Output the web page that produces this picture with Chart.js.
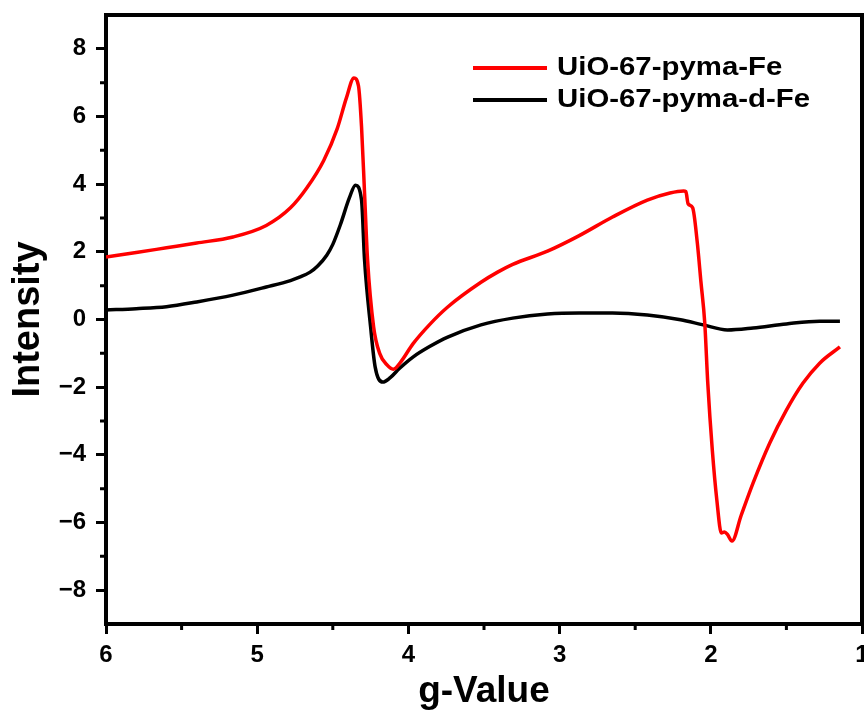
<!DOCTYPE html>
<html>
<head>
<meta charset="utf-8">
<script src="https://cdn.jsdelivr.net/npm/chart.js@4/dist/chart.umd.min.js"></script>
<style>
  html, body { margin: 0; padding: 0; background: #ffffff; }
  #wrap { width: 864px; height: 715px; position: relative; }
</style>
</head>
<body>
<div id="wrap"><canvas id="c" width="864" height="715"></canvas></div>
<script>
// ---- data ----
const seriesNames = ["UiO-67-pyma-Fe", "UiO-67-pyma-d-Fe"];

const gRed = [6.00, 5.80, 5.60, 5.40, 5.16, 4.94, 4.78, 4.67, 4.56, 4.47, 4.41, 4.36, 4.33, 4.31, 4.29, 4.27, 4.23, 4.19, 4.14, 4.10, 4.05, 3.97, 3.86, 3.74, 3.52, 3.41, 3.31, 3.08, 2.87, 2.65, 2.42, 2.27, 2.18, 2.165, 2.15, 2.12, 2.09, 2.065, 2.04, 2.02, 1.99, 1.96, 1.93, 1.91, 1.89, 1.86, 1.80, 1.72, 1.61, 1.50, 1.39, 1.28, 1.146];
const intRed = [1.85, 1.98, 2.12, 2.26, 2.44, 2.78, 3.30, 3.90, 4.70, 5.65, 6.55, 7.14, 6.90, 5.70, 3.74, 1.76, -0.22, -1.00, -1.35, -1.47, -1.25, -0.72, -0.15, 0.37, 1.10, 1.40, 1.63, 2.02, 2.48, 3.03, 3.53, 3.74, 3.80, 3.78, 3.42, 3.30, 2.30, 1.10, -0.10, -1.88, -3.86, -5.34, -6.31, -6.28, -6.35, -6.55, -5.80, -4.83, -3.65, -2.68, -1.88, -1.29, -0.81];

const gBlack = [6.00, 5.80, 5.60, 5.40, 5.16, 4.94, 4.78, 4.72, 4.65, 4.60, 4.54, 4.50, 4.45, 4.39, 4.35, 4.31, 4.29, 4.25, 4.22, 4.17, 4.12, 4.06, 3.97, 3.86, 3.74, 3.52, 3.31, 3.08, 2.87, 2.65, 2.42, 2.20, 2.05, 1.89, 1.72, 1.50, 1.28, 1.146];
const intBlack = [0.28, 0.32, 0.38, 0.52, 0.72, 0.96, 1.15, 1.25, 1.40, 1.58, 1.90, 2.22, 2.80, 3.60, 3.97, 3.53, 1.76, -0.22, -1.40, -1.85, -1.72, -1.45, -1.11, -0.80, -0.52, -0.16, 0.04, 0.16, 0.19, 0.19, 0.13, -0.01, -0.16, -0.31, -0.25, -0.13, -0.05, -0.05];

const xTicks = [6, 5, 4, 3, 2, 1];
const xMinorTicks = [5.5, 4.5, 3.5, 2.5, 1.5];
const yTicks = [-8, -6, -4, -2, 0, 2, 4, 6, 8];
const yMinorTicks = [-7, -5, -3, -1, 1, 3, 5, 7];

const FONT = "'Liberation Sans', Arial, Helvetica, sans-serif";

function pts(xs, ys) { return xs.map((x, i) => ({ x: x, y: ys[i] })); }

const frameAndMinor = {
  id: 'frameAndMinor',
  afterDraw(chart) {
    const ctx = chart.ctx;
    const a = chart.chartArea;
    const xs = chart.scales.x, ys = chart.scales.y;
    ctx.save();
    ctx.strokeStyle = '#000';
    // top and right frame
    ctx.lineWidth = 4;
    ctx.beginPath();
    ctx.moveTo(a.left - 2, a.top);
    ctx.lineTo(a.right, a.top);
    ctx.lineTo(a.right, a.bottom + 2);
    ctx.stroke();
    // minor ticks
    ctx.lineWidth = 3;
    ctx.beginPath();
    xMinorTicks.forEach(v => {
      const px = xs.getPixelForValue(v);
      ctx.moveTo(px, a.bottom);
      ctx.lineTo(px, a.bottom + 6);
    });
    yMinorTicks.forEach(v => {
      const py = ys.getPixelForValue(v);
      ctx.moveTo(a.left, py);
      ctx.lineTo(a.left - 6, py);
    });
    ctx.stroke();
    // legend
    const items = [
      { label: seriesNames[0], color: '#ff0000', y: 68 },
      { label: seriesNames[1], color: '#000000', y: 100 }
    ];
    items.forEach(it => {
      ctx.strokeStyle = it.color;
      ctx.lineWidth = 4;
      ctx.beginPath();
      ctx.moveTo(473, it.y);
      ctx.lineTo(547, it.y);
      ctx.stroke();
      ctx.save();
      ctx.translate(557, it.y);
      ctx.scale(1.13, 1);
      ctx.font = 'bold 26px ' + FONT;
      ctx.textBaseline = 'middle';
      ctx.textAlign = 'left';
      ctx.fillStyle = '#000';
      ctx.fillText(it.label, 0, 0);
      ctx.restore();
    });
    ctx.restore();
  }
};

new Chart(document.getElementById('c'), {
  type: 'line',
  data: {
    datasets: [
      {
        label: seriesNames[0],
        data: pts(gRed, intRed),
        borderColor: '#ff0000',
        borderWidth: 3.5,
        pointRadius: 0,
        cubicInterpolationMode: 'monotone',
        fill: false
      },
      {
        label: seriesNames[1],
        data: pts(gBlack, intBlack),
        borderColor: '#000000',
        borderWidth: 3.5,
        pointRadius: 0,
        cubicInterpolationMode: 'monotone',
        fill: false
      }
    ]
  },
  options: {
    responsive: false,
    animation: false,
    devicePixelRatio: 1,
    layout: { padding: { top: 15, right: 2, left: 0, bottom: 0 } },
    plugins: {
      legend: { display: false },
      tooltip: { enabled: false }
    },
    scales: {
      x: {
        type: 'linear',
        min: 1,
        max: 6,
        reverse: true,
        afterBuildTicks: s => { s.ticks = xTicks.map(v => ({ value: v })); },
        afterFit: s => { s.height = 91; s.paddingLeft = 0; s.paddingRight = 0; },
        border: { display: true, color: '#000', width: 4 },
        grid: { display: true, drawOnChartArea: false, drawTicks: true, tickLength: 10, tickWidth: 3, tickColor: '#000' },
        ticks: {
          color: '#000',
          padding: 7,
          maxRotation: 0,
          autoSkip: false,
          font: { family: FONT, size: 24, weight: 'bold' },
          callback: v => String(v)
        },
        title: {
          display: true,
          text: 'g-Value',
          color: '#000',
          font: { family: FONT, size: 37, weight: 'bold', lineHeight: 1 },
          padding: { top: 0, bottom: 5 }
        }
      },
      y: {
        type: 'linear',
        min: -9,
        max: 9,
        afterBuildTicks: s => { s.ticks = yTicks.map(v => ({ value: v })); },
        afterFit: s => { s.width = 106; s.paddingTop = 0; s.paddingBottom = 0; },
        border: { display: true, color: '#000', width: 4 },
        grid: { display: true, drawOnChartArea: false, drawTicks: true, tickLength: 10, tickWidth: 3, tickColor: '#000' },
        ticks: {
          color: '#000',
          padding: 10,
          autoSkip: false,
          font: { family: FONT, size: 24, weight: 'bold' },
          callback: v => (v < 0 ? '\u2212' + Math.abs(v) : String(v))
        },
        title: {
          display: true,
          text: 'Intensity',
          color: '#000',
          font: { family: FONT, size: 38, weight: 'bold', lineHeight: 1 },
          padding: { top: 10, bottom: 0 }
        }
      }
    }
  },
  plugins: [frameAndMinor]
});
</script>
</body>
</html>
